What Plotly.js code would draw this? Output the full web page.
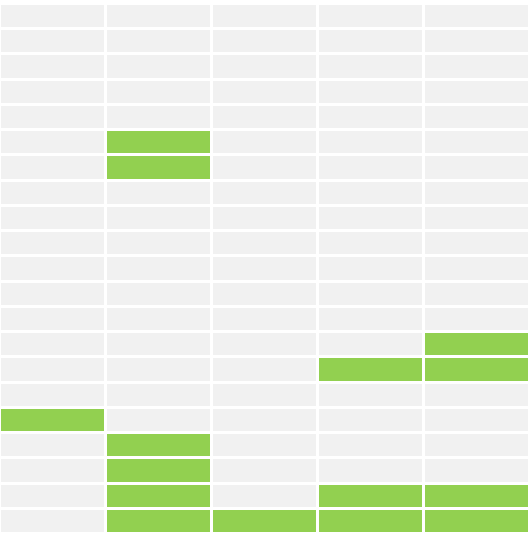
<!DOCTYPE html>
<html>
<head>
<meta charset="utf-8">
<script src="https://cdn.plot.ly/plotly-3.0.1.min.js"></script>
<style>html,body{margin:0;padding:0;background:#fff;overflow:hidden;}#chart{width:530px;height:534px;}</style>
</head>
<body>
<div id="chart"></div>
<script>
var columns = ['C1', 'C2', 'C3', 'C4', 'C5'];
var rows = ['R1','R2','R3','R4','R5','R6','R7','R8','R9','R10','R11','R12','R13','R14','R15','R16','R17','R18','R19','R20','R21'];
var col1 = [0,0,0,0,0,0,0,0,0,0,0,0,0,0,0,0,1,0,0,0,0];
var col2 = [0,0,0,0,0,1,1,0,0,0,0,0,0,0,0,0,0,1,1,1,1];
var col3 = [0,0,0,0,0,0,0,0,0,0,0,0,0,0,0,0,0,0,0,0,1];
var col4 = [0,0,0,0,0,0,0,0,0,0,0,0,0,0,1,0,0,0,0,1,1];
var col5 = [0,0,0,0,0,0,0,0,0,0,0,0,0,1,1,0,0,0,0,1,1];

var cols = [col1, col2, col3, col4, col5];
var z = rows.map(function (r, i) { return cols.map(function (c) { return c[i]; }); });

Plotly.newPlot('chart', [{
  type: 'heatmap',
  x: columns,
  y: rows,
  z: z,
  zmin: 0, zmax: 1,
  colorscale: [[0, '#f1f1f1'], [1, '#92d050']],
  showscale: false,
  xgap: 3, ygap: 3,
  hoverinfo: 'none'
}], {
  width: 530, height: 534,
  margin: {l: 0, r: 0, t: 4, b: 0, pad: 0},
  paper_bgcolor: '#ffffff', plot_bgcolor: '#ffffff',
  xaxis: {visible: false, showgrid: false, zeroline: false},
  yaxis: {visible: false, showgrid: false, zeroline: false, autorange: 'reversed'},
  showlegend: false
}, {displayModeBar: false, staticPlot: true});
</script>
</body>
</html>
